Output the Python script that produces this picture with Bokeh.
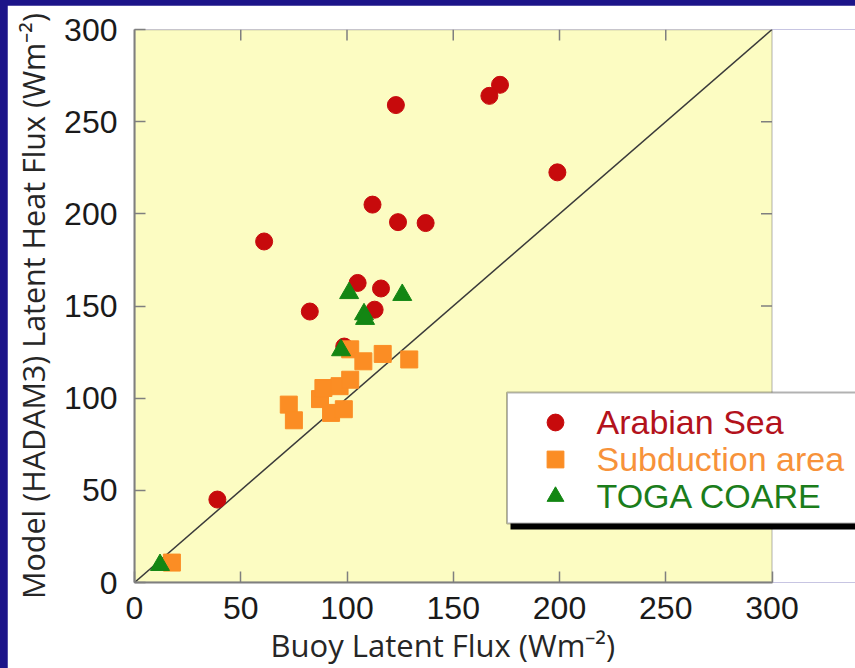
from bokeh.plotting import figure
from bokeh.models import (Range1d, SingleIntervalTicker, Legend, LegendItem, BoxAnnotation, Title)
from bokeh.embed import file_html
from bokeh.resources import INLINE

# ---- data ----
arabian_x = [199, 172, 167, 123, 112, 124, 137, 61, 105, 116, 82.5, 113, 98.7, 39]
arabian_y = [222.5, 270, 264, 259, 205, 195.5, 195, 185, 162.5, 159.5, 147, 148, 128, 45]

subduction_x = [17.6, 72.6, 75, 87.3, 88.9, 92.5, 96.5, 98.5, 101.5, 101.5, 107.7, 116.8, 129.3]
subduction_y = [10.8, 96.5, 88, 99.5, 105.5, 92, 106.5, 94, 110, 126.5, 120, 124, 121]

toga_x = [101, 126, 108, 108.5, 97.2, 12]
toga_y = [157, 156, 145.5, 143, 126, 9.5]

one_to_one = [0, 300]
axis_min, axis_max = 0, 300
tick_interval = 50
tick_values = list(range(axis_min, axis_max + 1, tick_interval))

x_title = "Buoy Latent Flux (Wm\u207b\u00b2)"
y_title = "Model (HADAM3) Latent Heat Flux (Wm\u207b\u00b2)"
series_labels = ["Arabian Sea", "Subduction area", "TOGA COARE"]

RED = "#c70a0c"
ORANGE = "#fb8d24"
GREEN = "#138613"
GREY = "#7f7f7f"
PLOT_BG = "#fcfcc2"

# geometry: axis span 0..300 covers 637.5 px; the frame is widened to the page edge
FRAME_LEFT = 127
FIG_W, FIG_H = 848, 663
px_per_unit_x = 637.5 / (axis_max - axis_min)
x_view_end = (FIG_W - FRAME_LEFT) / px_per_unit_x
px_per_unit_y = 553.0 / (axis_max - axis_min)

p = figure(width=FIG_W, height=FIG_H, output_backend="svg", toolbar_location=None,
           x_range=Range1d(axis_min, x_view_end), y_range=Range1d(axis_min, axis_max),
           min_border_left=FRAME_LEFT, min_border_right=0, min_border_top=24,
           min_border_bottom=86,
           background_fill_color="white", border_fill_color="white")
p.outline_line_color = None
p.xgrid.visible = False
p.ygrid.visible = False

# pale-yellow plotting area with grey frame
plot_area = BoxAnnotation(left=axis_min, right=axis_max, bottom=axis_min, top=axis_max,
                          fill_color=PLOT_BG, fill_alpha=1,
                          line_color=GREY, line_width=2, level="underlay")
p.add_layout(plot_area)

for ax in (p.xaxis[0], p.yaxis[0]):
    ax.ticker = SingleIntervalTicker(interval=tick_interval)
    ax.bounds = (axis_min, axis_max)
    ax.minor_tick_line_color = None
    ax.major_tick_in = 11
    ax.major_tick_out = 0
    ax.major_tick_line_color = GREY
    ax.major_tick_line_width = 1.5
    ax.axis_line_color = GREY
    ax.axis_line_width = 2
    ax.major_label_text_font = "Liberation Sans"
    ax.major_label_text_font_size = "32px"
    ax.major_label_text_color = "#1a1a1a"
    ax.axis_label_text_font = "Open Sans"
    ax.axis_label_text_font_size = "30.5px"
    ax.axis_label_text_font_style = "normal"
    ax.axis_label_text_color = "#262626"

p.yaxis[0].axis_label = y_title
p.xaxis[0].major_label_standoff = 10
p.yaxis[0].major_label_standoff = 13
p.yaxis[0].axis_label_standoff = 7

# x-axis title placed below, left-aligned so it sits where the reference has it
xt = Title(text=x_title, align="left", offset=136, standoff=0,
           text_font="Open Sans", text_font_size="31px", text_font_style="normal",
           text_color="#262626")
p.add_layout(xt, "below")

# inward ticks on the top and right edges of the plotting area
tick_len_x = 11 / px_per_unit_x
tick_len_y = 11 / px_per_unit_y
inner = tick_values[1:-1]
p.segment(x0=inner, y0=[axis_max] * len(inner), x1=inner,
          y1=[axis_max - tick_len_y] * len(inner), line_color=GREY, line_width=1.5)
p.segment(x0=[axis_max] * len(inner), y0=inner, x1=[axis_max - tick_len_x] * len(inner),
          y1=inner, line_color=GREY, line_width=1.5)

p.line(one_to_one, one_to_one, line_color="#3a3a3a", line_width=1.5)

r_ar = p.scatter(arabian_x, arabian_y, marker="circle", size=17,
                 fill_color=RED, line_color=RED)
r_sub = p.scatter(subduction_x, subduction_y, marker="square", size=17,
                  fill_color=ORANGE, line_color=ORANGE)
r_toga = p.scatter(toga_x, toga_y, marker="triangle", size=19,
                   fill_color=GREEN, line_color=GREEN)

# legend panel with drop shadow (screen units, relative to the frame's bottom-left)
shadow = BoxAnnotation(left=376, right=760, top=184, bottom=53,
                       left_units="screen", right_units="screen",
                       top_units="screen", bottom_units="screen",
                       fill_color="black", fill_alpha=1, line_color=None)
panel = BoxAnnotation(left=372.5, right=760, top=190, bottom=59,
                      left_units="screen", right_units="screen",
                      top_units="screen", bottom_units="screen",
                      fill_color="white", fill_alpha=1, line_color="black", line_width=2)
p.add_layout(shadow)
p.add_layout(panel)

label_colors = ["#b3121c", "#f7923a", "#1b7d1b"]
renderers = [r_ar, r_sub, r_toga]
row_bottoms = [139, 102, 65]
for lab, col, rend, vy in zip(series_labels, label_colors, renderers, row_bottoms):
    lg = Legend(items=[LegendItem(label=lab, renderers=[rend])],
                location=(399.5, vy), glyph_width=42, glyph_height=42,
                label_text_font="Liberation Sans", label_text_font_size="34px",
                label_text_color=col, label_standoff=21,
                border_line_color=None, background_fill_alpha=0,
                padding=0, margin=0, spacing=0)
    p.add_layout(lg)

html = file_html(p, INLINE)
html = html.replace(
    "</head>",
    "<style>html, body{background:#1c1489 !important; margin:0 !important;}"
    " body{padding:5px 0 0 7px !important; box-sizing:border-box;}</style></head>", 1)
open("out.html", "w").write(html)
